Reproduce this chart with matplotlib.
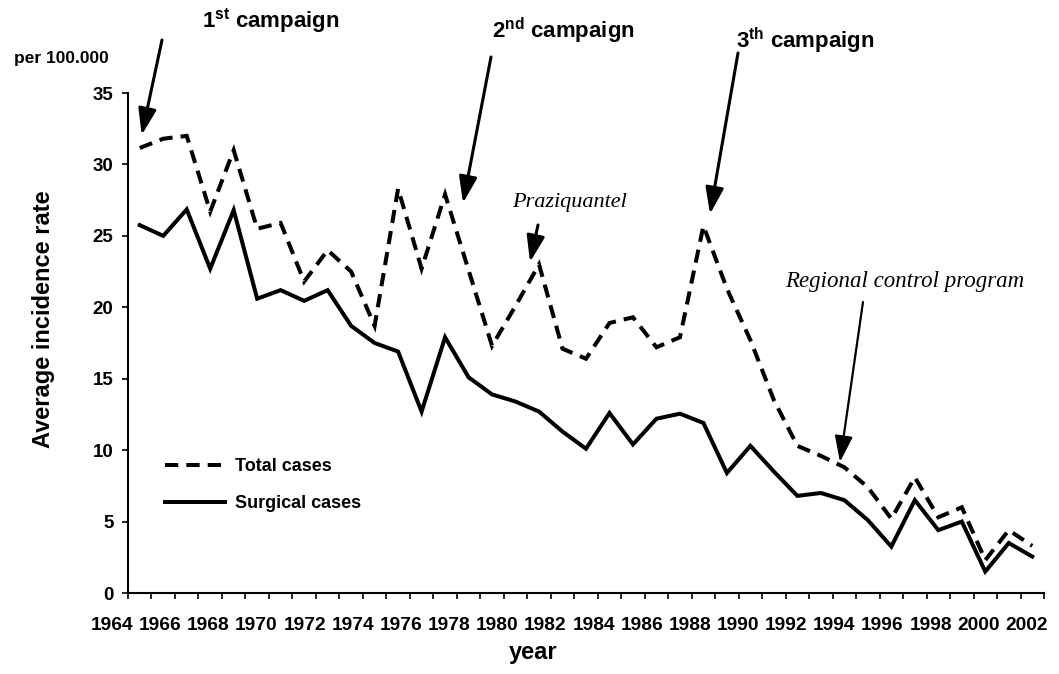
import numpy as np
import matplotlib
matplotlib.use('Agg')
import matplotlib.pyplot as plt

years = list(range(1964, 2003))
total = [31.15, 31.8, 32.0, 26.7, 31.0, 25.5, 25.9, 21.8, 24.0, 22.5,
         18.7, 28.3, 22.7, 27.9, 22.6, 17.3, 20.1, 23.0, 17.1, 16.4,
         18.9, 19.3, 17.2, 17.9, 25.7, 21.3, 17.7, 13.5, 10.3, 9.6,
         8.8, 7.4, 5.2, 8.1, 5.3, 6.0, 2.3, 4.4, 3.3]
surgical = [25.75, 25.0, 26.85, 22.7, 26.8, 20.6, 21.2, 20.45, 21.2, 18.7,
            17.5, 16.9, 12.7, 17.9, 15.1, 13.9, 13.4, 12.7, 11.3, 10.1,
            12.6, 10.4, 12.2, 12.55, 11.9, 8.4, 10.3, 8.5, 6.8, 7.0,
            6.5, 5.1, 3.25, 6.5, 4.4, 5.0, 1.5, 3.5, 2.55]
label_years = list(range(1964, 2003, 2))
yticks = [0, 5, 10, 15, 20, 25, 30, 35]

W, H = 1059, 674
def fx(x):
    return x / W
def fy(y):
    return 1 - y / H

plt.rcParams['font.family'] = ['Liberation Sans', 'DejaVu Sans']
plt.rcParams['mathtext.fontset'] = 'custom'
plt.rcParams['mathtext.rm'] = 'Liberation Sans:bold'
plt.rcParams['mathtext.it'] = 'Liberation Sans:bold'
plt.rcParams['mathtext.bf'] = 'Liberation Sans:bold'

fig = plt.figure(figsize=(10.59, 6.74), dpi=100)
ax = fig.add_axes([fx(128), fy(593), (1044 - 128) / W, (593 - 93) / H])

x = np.arange(len(years))
ax.plot(x, total, color='black', lw=2.9, dashes=(3.3, 2),
        dash_capstyle='butt', dash_joinstyle='miter', label='Total cases')
ax.plot(x, surgical, color='black', lw=2.9, solid_joinstyle='miter',
        label='Surgical cases')

ax.set_xlim(-0.5, len(years) - 0.5)
ax.set_ylim(0, 35)
for s in ['top', 'right']:
    ax.spines[s].set_visible(False)
for s in ['left', 'bottom']:
    ax.spines[s].set_linewidth(1.5)

ax.set_yticks(yticks)
ax.set_yticklabels([str(v) for v in yticks], fontsize=13.5, fontweight='bold')
ax.tick_params(axis='y', length=4.5, width=1.2, pad=6)
ax.set_xticks(np.arange(len(years) + 1) - 0.5)
ax.set_xticklabels([])
ax.tick_params(axis='x', length=4, width=1.2)

# year labels sit a bit to the left of the category centres, as in the original
for k, yr in enumerate(label_years):
    fig.text(fx(112 + 48.16 * k), fy(626), str(yr), ha='center', va='center',
             fontsize=13.8, fontweight='bold')

fig.text(fx(44), fy(319), 'Average incidence rate', rotation=90,
         ha='center', va='center', fontsize=17, fontweight='bold')
fig.text(fx(533), fy(652), 'year', ha='center', va='center',
         fontsize=17, fontweight='bold')
fig.text(fx(61), fy(58), 'per 100.000', ha='center', va='center',
         fontsize=12.5, fontweight='bold')

fig.text(fx(271), fy(21), r'1$^{\rm st}$ campaign', ha='center', va='center',
         fontsize=16, fontweight='bold')
fig.text(fx(563), fy(31), r'2$^{\rm nd}$ campaign', ha='center', va='center',
         fontsize=16, fontweight='bold')
fig.text(fx(805), fy(41), r'3$^{\rm th}$ campaign', ha='center', va='center',
         fontsize=16, fontweight='bold')
fig.text(fx(570), fy(202), 'Praziquantel', ha='center', va='center',
         fontsize=16, family='Liberation Serif', style='italic')
fig.text(fx(905), fy(282), 'Regional control program', ha='center', va='center',
         fontsize=16.5, family='Liberation Serif', style='italic')

def arrow(x0, y0, x1, y1, lw=2.2):
    ax.annotate('', xy=(fx(x1), fy(y1)), xycoords='figure fraction',
                xytext=(fx(x0), fy(y0)), textcoords='figure fraction',
                arrowprops=dict(arrowstyle='-|>,head_length=1.6,head_width=0.55',
                                lw=lw, color='black', mutation_scale=10,
                                shrinkA=0, shrinkB=0))

arrow(162, 40, 141.7, 135)
arrow(491, 57, 463, 203)
arrow(738, 53, 710, 214)
arrow(538, 225, 530, 262)
arrow(863, 302, 840, 462, lw=1.6)

ax.legend(loc='upper left', bbox_to_anchor=(fx(165), fy(458)),
          bbox_transform=fig.transFigure, frameon=False, borderpad=0,
          borderaxespad=0, handlelength=3.3, handletextpad=0.55,
          labelspacing=1.1, prop={'size': 13, 'weight': 'bold'})

fig.savefig('out.png', dpi=100)
